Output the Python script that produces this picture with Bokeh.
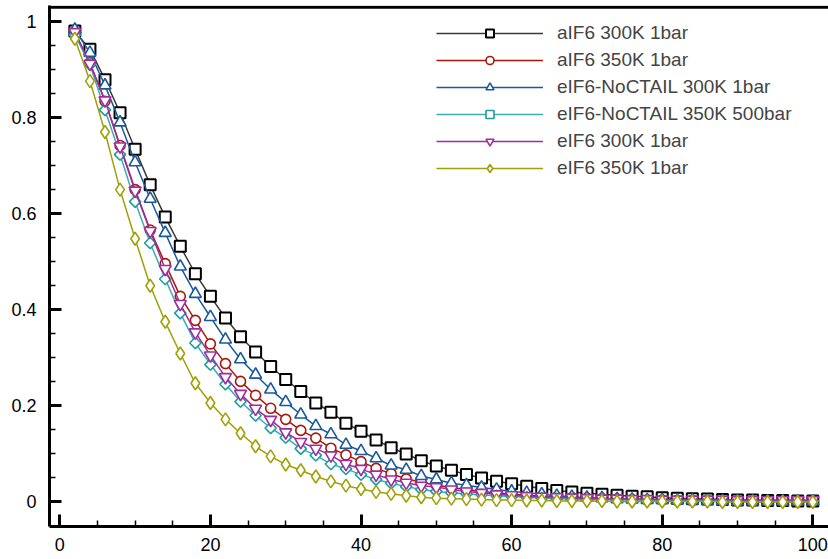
import numpy as np
from bokeh.plotting import figure
from bokeh.models import (FixedTicker, CustomJSTickFormatter, Legend, LegendItem, Range1d,
                          Span)
from bokeh.embed import file_html
from bokeh.resources import INLINE

x = list(range(2, 101, 2))

aif6_300 = [0.980, 0.942, 0.879, 0.810, 0.734, 0.660, 0.593, 0.532, 0.475, 0.428,
            0.383, 0.344, 0.312, 0.282, 0.255, 0.230, 0.206, 0.187, 0.164, 0.147,
            0.129, 0.113, 0.100, 0.086, 0.075, 0.066, 0.057, 0.050, 0.043, 0.038,
            0.033, 0.028, 0.024, 0.021, 0.018, 0.016, 0.014, 0.012, 0.011, 0.009,
            0.008, 0.007, 0.006, 0.005, 0.004, 0.004, 0.003, 0.003, 0.002, 0.002]
aif6_350 = [0.977, 0.914, 0.834, 0.742, 0.650, 0.566, 0.496, 0.428, 0.378, 0.329,
            0.288, 0.251, 0.222, 0.195, 0.172, 0.149, 0.133, 0.112, 0.098, 0.084,
            0.070, 0.059, 0.048, 0.041, 0.035, 0.030, 0.026, 0.022, 0.019, 0.016,
            0.014, 0.012, 0.010, 0.009, 0.008, 0.007, 0.006, 0.005, 0.004, 0.004,
            0.003, 0.003, 0.003, 0.002, 0.002, 0.002, 0.002, 0.001, 0.001, 0.001]
enoc_300 = [0.983, 0.935, 0.867, 0.790, 0.707, 0.631, 0.560, 0.490, 0.433, 0.385,
            0.338, 0.297, 0.265, 0.234, 0.208, 0.182, 0.158, 0.141, 0.119, 0.106,
            0.091, 0.076, 0.067, 0.054, 0.047, 0.039, 0.035, 0.030, 0.026, 0.022,
            0.019, 0.016, 0.013, 0.011, 0.009, 0.008, 0.006, 0.005, 0.004, 0.004,
            0.003, 0.003, 0.002, 0.002, 0.001, 0.001, 0.001, 0.001, 0.001, 0.001]
enoc_350 = [0.972, 0.910, 0.816, 0.723, 0.625, 0.539, 0.464, 0.393, 0.331, 0.286,
            0.245, 0.209, 0.180, 0.154, 0.134, 0.111, 0.097, 0.079, 0.069, 0.057,
            0.047, 0.039, 0.032, 0.026, 0.022, 0.019, 0.017, 0.015, 0.013, 0.011,
            0.010, 0.008, 0.007, 0.006, 0.005, 0.005, 0.004, 0.004, 0.003, 0.003,
            0.003, 0.003, 0.002, 0.002, 0.002, 0.002, 0.002, 0.002, 0.002, 0.002]
eif6_300 = [0.978, 0.912, 0.836, 0.740, 0.648, 0.564, 0.485, 0.412, 0.353, 0.305,
            0.260, 0.225, 0.194, 0.171, 0.145, 0.125, 0.111, 0.097, 0.079, 0.069,
            0.057, 0.047, 0.040, 0.034, 0.031, 0.026, 0.022, 0.019, 0.016, 0.014,
            0.012, 0.011, 0.010, 0.009, 0.008, 0.007, 0.007, 0.006, 0.006, 0.005,
            0.005, 0.005, 0.005, 0.005, 0.004, 0.004, 0.004, 0.004, 0.004, 0.004]
eif6_350 = [0.964, 0.876, 0.770, 0.650, 0.548, 0.450, 0.375, 0.309, 0.247, 0.206,
            0.172, 0.143, 0.116, 0.095, 0.078, 0.066, 0.053, 0.043, 0.034, 0.027,
            0.021, 0.017, 0.013, 0.010, 0.008, 0.007, 0.006, 0.005, 0.004, 0.004,
            0.003, 0.003, 0.002, 0.002, 0.002, 0.002, 0.001, 0.001, 0.001, 0.001,
            0.001, 0.001, 0.001, 0.000, 0.000, 0.000, 0.000, 0.000, 0.000, 0.000]

labels = ["aIF6 300K 1bar", "aIF6 350K 1bar", "eIF6-NoCTAIL 300K 1bar",
          "eIF6-NoCTAIL 350K 500bar", "eIF6 300K 1bar", "eIF6 350K 1bar"]
series = [aif6_300, aif6_350, enoc_300, enoc_350, eif6_300, eif6_350]
line_colors = ["#3a3a3a", "#a8180c", "#1a5a9c", "#3aaeae", "#a02ca0", "#a0a008"]
mark_colors = ["#000000", "#a8180c", "#1a5a9c", "#1e9ea0", "#a02ca0", "#a0a008"]
markers = ["square", "circle", "triangle", "square", "inverted_triangle", "diamond"]
sizes = [11, 10, 12, 8, 12, 13]
angles = [0, 0, 0, np.pi / 4, 0, 0]
mlw = [2.0, 1.6, 1.6, 1.6, 1.6, 1.6]

x_ticks = [0, 20, 40, 60, 80, 100]
x_minor = list(range(0, 101, 5))
y_ticks = [0, 0.2, 0.4, 0.6, 0.8, 1.0]
y_minor = [i * 0.05 for i in range(0, 21)]

FONT = "Liberation Sans"

p = figure(width=828, height=559, output_backend="svg", toolbar_location=None,
           x_range=Range1d(-1.37, 102.08), y_range=Range1d(-0.051, 1.0333),
           min_border_left=49, min_border_right=0, min_border_top=5, min_border_bottom=33)
p.outline_line_color = None
p.xgrid.visible = False
p.ygrid.visible = False
p.background_fill_color = "white"

for ax, ticks, minor in ((p.xaxis[0], x_ticks, x_minor), (p.yaxis[0], y_ticks, y_minor)):
    ax.ticker = FixedTicker(ticks=ticks, minor_ticks=minor)
    ax.axis_line_width = 3
    ax.axis_line_color = "black"
    ax.major_tick_in = 12
    ax.major_tick_out = 0
    ax.minor_tick_in = 6
    ax.minor_tick_out = 0
    ax.major_tick_line_width = 3
    ax.minor_tick_line_width = 1.5
    ax.major_label_text_font = FONT
    ax.major_label_text_font_size = "18px"
    ax.major_label_text_color = "black"

p.yaxis[0].formatter = CustomJSTickFormatter(
    code="if (Math.abs(tick) < 1e-9) return '0'; if (Math.abs(tick-1) < 1e-9) return '1'; return tick.toFixed(1);")
p.xaxis[0].formatter = CustomJSTickFormatter(code="return tick.toFixed(0);")
p.yaxis[0].major_label_standoff = 13
p.xaxis[0].major_label_standoff = 11

# top frame line only (the reference has no right border)
top_line = Span(location=1.0295, location_units="data", dimension="width",
                line_color="black", line_width=3, level="glyph")
p.add_layout(top_line)

items = []
for lab, ys, lc, mc, m, s, a, w in zip(labels, series, line_colors, mark_colors, markers, sizes, angles, mlw):
    lr = p.line(x, ys, line_color=lc, line_width=1.5)
    sr = p.scatter(x, ys, marker=m, size=s, angle=a, line_color=mc, fill_color="white",
                   line_width=w)
    items.append(LegendItem(label=lab, renderers=[lr, sr]))

legend = Legend(items=items, location=(387, 347), border_line_color=None,
                background_fill_alpha=0, padding=0, spacing=5, glyph_width=107,
                glyph_height=20, label_height=20, label_standoff=14,
                label_text_font=FONT, label_text_font_size="19px")
p.add_layout(legend)

open("out.html", "w").write(file_html(p, INLINE))
